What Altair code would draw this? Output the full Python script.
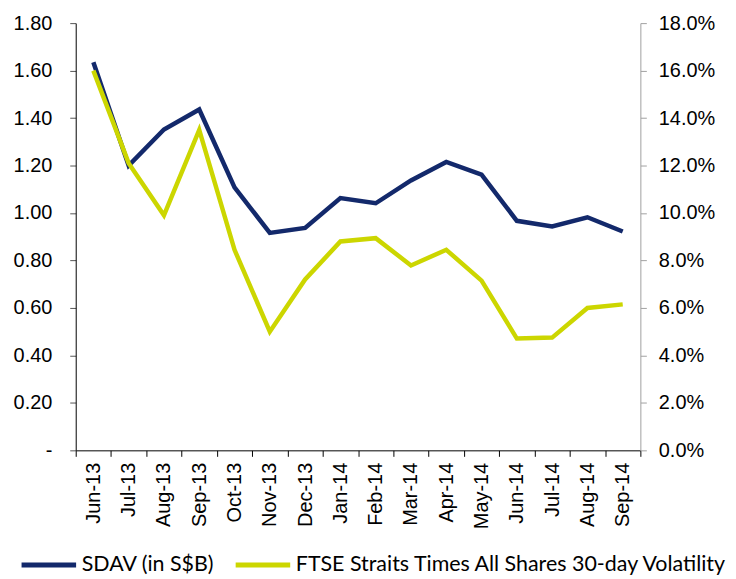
import altair as alt
import pandas as pd

months = ["Jun-13", "Jul-13", "Aug-13", "Sep-13", "Oct-13", "Nov-13", "Dec-13", "Jan-14",
          "Feb-14", "Mar-14", "Apr-14", "May-14", "Jun-14", "Jul-14", "Aug-14", "Sep-14"]
sdav = [1.635, 1.20, 1.352, 1.436, 1.108, 0.916, 0.937, 1.063,
        1.041, 1.137, 1.215, 1.162, 0.967, 0.943, 0.982, 0.922]
ftse = [0.160, 0.121, 0.099, 0.135, 0.0845, 0.050, 0.072, 0.088,
        0.0894, 0.0779, 0.0845, 0.0715, 0.0471, 0.0475, 0.060, 0.0615]

s1 = "SDAV (in S$B)"
s2 = "FTSE Straits Times All Shares 30-day Volatility"

df1 = pd.DataFrame({"month": months, "value": sdav, "series": [s1] * len(months)})
df2 = pd.DataFrame({"month": months, "value": ftse, "series": [s2] * len(months)})

FONT = "Liberation Sans"

color = alt.Color(
    "series:N",
    scale=alt.Scale(domain=[s1, s2], range=["#13296B", "#CCD600"]),
    legend=alt.Legend(
        title=None, orient="none", legendX=-57, legendY=514, direction="horizontal",
        symbolType="stroke", symbolSize=3000, symbolStrokeWidth=5,
        labelFont="Lato", labelFontSize=21.5, labelColor="black",
        columnPadding=10, labelOffset=3, labelLimit=600,
    ),
)

x = alt.X(
    "month:N", sort=months, bandPosition=0.5,
    scale=alt.Scale(type="band", paddingInner=0, paddingOuter=0),
    axis=alt.Axis(title=None, tickBand="extent", labelAngle=-90, labelFont=FONT,
                  labelFontSize=20, labelColor="black", domainColor="black",
                  tickColor="black", tickSize=6, labelPadding=6, grid=False),
)

left_vals = [round(i * 0.2, 1) for i in range(10)]
right_vals = [round(i * 0.02, 2) for i in range(10)]

line1 = alt.Chart(df1).mark_line(strokeWidth=4.5, strokeJoin="miter", strokeCap="butt").encode(
    x=x,
    y=alt.Y("value:Q", scale=alt.Scale(domain=[0, 1.8]),
            axis=alt.Axis(title=None, values=left_vals, grid=False,
                          labelExpr="datum.value == 0 ? '-\u00a0\u00a0\u00a0\u00a0' : format(datum.value, '.2f')",
                          labelFont=FONT, labelFontSize=20, labelColor="black",
                          domainColor="black", tickColor="#555555", tickSize=6,
                          labelPadding=18)),
    color=color,
)

line2 = alt.Chart(df2).mark_line(strokeWidth=4.5, strokeJoin="miter", strokeCap="butt").encode(
    x=x,
    y=alt.Y("value:Q", scale=alt.Scale(domain=[0, 0.18]),
            axis=alt.Axis(title=None, orient="right", values=right_vals, format=".1%",
                          grid=False, labelFont=FONT, labelFontSize=20, labelColor="black",
                          domainColor="#A0A0A0", tickColor="#A0A0A0", tickSize=6,
                          labelPadding=12)),
    color=color,
)

chart = alt.layer(line1, line2).resolve_scale(y="independent").properties(
    width=567, height=429,
    padding={"left": 5, "top": 4, "right": 0, "bottom": 0},
).configure_view(stroke=None)

chart.save("out.html", embed_options={"renderer": "svg", "actions": False})
